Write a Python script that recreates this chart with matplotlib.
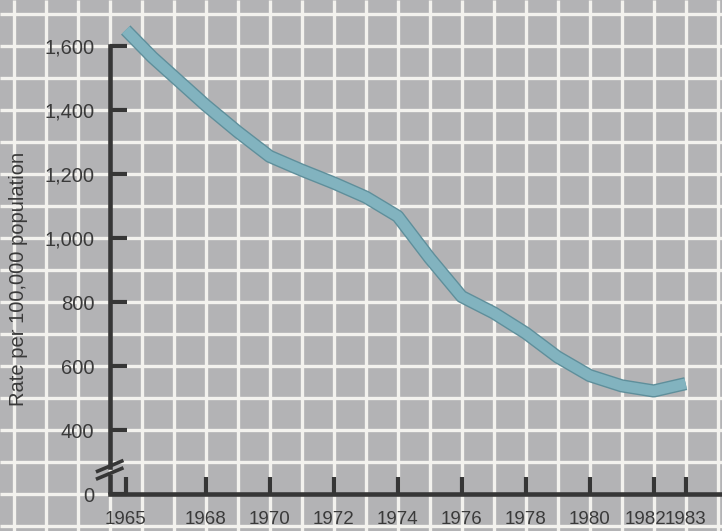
#!/usr/bin/env python3
"""Rate per 100,000 population, 1965-1983, drawn on grid paper."""

import numpy as np
import matplotlib
matplotlib.use("Agg")
import matplotlib.pyplot as plt
import matplotlib.patheffects as pe
import matplotlib.transforms as mtransforms

YEARS = [1965, 1966, 1967, 1968, 1969, 1970, 1971, 1972, 1973, 1974,
         1975, 1976, 1977, 1978, 1979, 1980, 1981, 1982, 1983]
RATE = [1650, 1565, 1490, 1415, 1332, 1255, 1212, 1172, 1128, 1068,
        937, 817, 766, 703, 628, 570, 538, 522, 545]

X_TICKS = [1965, 1968, 1970, 1972, 1974, 1976, 1978, 1980, 1982, 1983]
Y_TICKS = [200, 400, 600, 800, 1000, 1200, 1400, 1600]
Y_LABELS = ["0", "400", "600", "800", "1,000", "1,200", "1,400", "1,600"]

PAPER, GRID = "#b3b3b5", "#f3f2ee"
AXIS, TEXT = "#363636", "#3a3a3a"
LINE, LINE_EDGE = "#82b3bf", "#5f8f9b"

plt.rcParams["font.family"] = ["Liberation Sans", "DejaVu Sans"]


# the artist squeezed 1965-1968 so 1965 sits half a cell right of the axis
def fwd(x):
    x = np.asarray(x, dtype=float)
    return np.where(x < 1965, x + 0.5,
                    np.where(x < 1968, 1965.5 + (x - 1965) * 2.5 / 3, x))


def inv(d):
    d = np.asarray(d, dtype=float)
    return np.where(d < 1965.5, d - 0.5,
                    np.where(d < 1968, 1965 + (d - 1965.5) * 3 / 2.5, d))


fig = plt.figure(figsize=(7.22, 5.31), dpi=100)
fig.patch.set_facecolor(PAPER)
ax = fig.add_axes([0, 0, 1, 1])
ax.set_facecolor(PAPER)
ax.set_xscale("function", functions=(fwd, inv))
ax.set_xlim(float(inv(1961.572)), 1984.134)
ax.set_ylim(84.375, 1743.75)

# grid paper: one cell per year and per 100, under everything else
ax.vlines(inv(np.arange(1961, 1986)), 0, 1, transform=ax.get_xaxis_transform(),
          color=GRID, linewidth=2.4, zorder=0.5)
ax.hlines(np.arange(100, 1800, 100), 0, 1, transform=ax.get_yaxis_transform(),
          color=GRID, linewidth=2.4, zorder=0.5)

ax.plot(YEARS, RATE, color=LINE, linewidth=7.5, solid_capstyle="butt",
        solid_joinstyle="round", zorder=3,
        path_effects=[pe.Stroke(linewidth=9.5, foreground=LINE_EDGE,
                                capstyle="butt"), pe.Normal()])

for side in ("top", "right"):
    ax.spines[side].set_visible(False)
ax.spines["left"].set_position(("data", 1964.5))
ax.spines["bottom"].set_position(("data", 200))
ax.spines["left"].set_bounds(284, 1600)
ax.spines["bottom"].set_bounds(1964.5, 1990)
for side in ("left", "bottom"):
    ax.spines[side].set_color(AXIS)
    ax.spines[side].set_linewidth(3.3)
    ax.spines[side].set_capstyle("projecting")

# lower stub of the broken y axis and the break marks
ax.plot([1964.5, 1964.5], [200, 262], color=AXIS, linewidth=3.3,
        solid_capstyle="butt", zorder=2.5)
for yc in (287, 264):
    ax.plot([1964.07, 1964.93], [yc - 18, yc + 18], color=AXIS,
            linewidth=2.6, solid_capstyle="butt", zorder=2.6)

ax.set_xticks(X_TICKS)
ax.set_xticklabels([str(y) for y in X_TICKS])
ax.set_yticks(Y_TICKS)
ax.set_yticklabels(Y_LABELS)
ax.tick_params(which="major", direction="in", length=12.5, width=3,
               color=AXIS, labelcolor=TEXT)
ax.tick_params(axis="y", pad=11, labelsize=14.5)
ax.tick_params(axis="x", pad=12, labelsize=13.5)
ax.tick_params(which="minor", length=0)

# 1982 label sits a little left so it clears 1983
fig.canvas.draw()
lab = ax.get_xticklabels()[X_TICKS.index(1982)]
lab.set_transform(lab.get_transform() +
                  mtransforms.ScaledTranslation(-6 / 72, 0, fig.dpi_scale_trans))

fig.text(19 / 722, 1 - 279 / 531, "Rate per 100,000 population",
         rotation=90, ha="center", va="center", fontsize=14.5, color=TEXT)

fig.savefig("out.png", facecolor=PAPER)
